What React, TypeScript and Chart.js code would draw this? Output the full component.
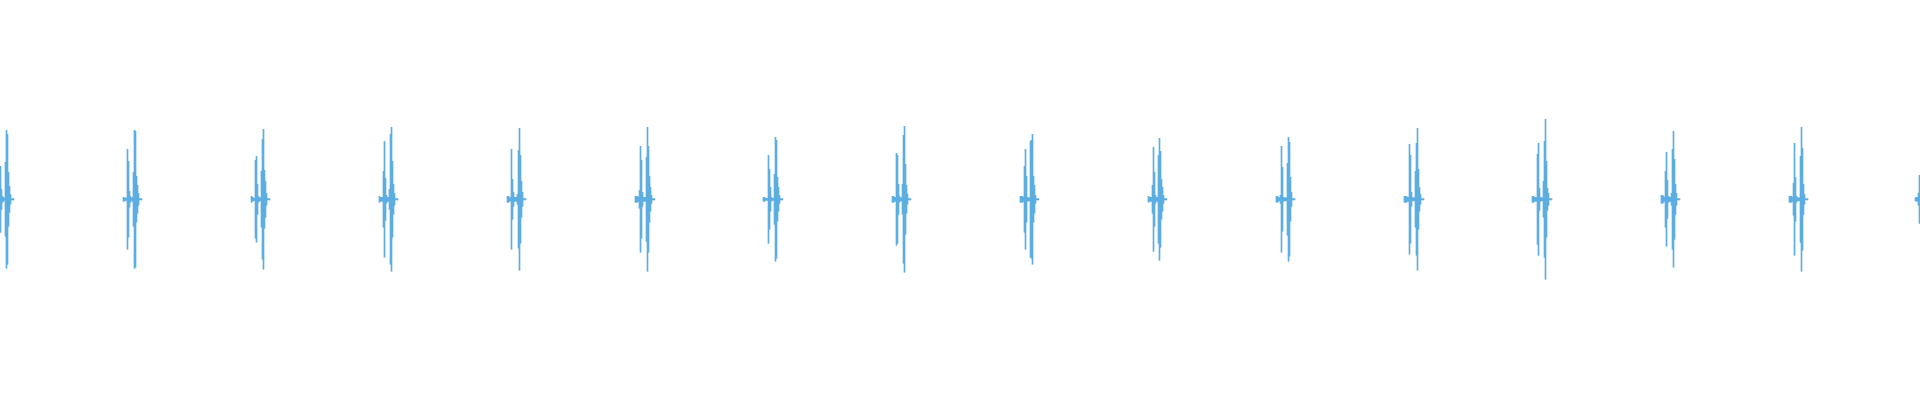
import React, { useEffect, useRef } from "react";
import { Chart, registerables } from "chart.js";

Chart.register(...registerables);

// Waveform envelope: each heartbeat burst starts at a bin (x), followed by
// per-bin half-amplitudes (symmetric around zero). null = outside the view.
const beatStarts = [-5, 123, 251, 379, 507, 635, 763, 892, 1020, 1148, 1276, 1404, 1532, 1661, 1789, 1915];

const beat01 = [null, null, null, null, null, 33, 10, 3, 2, 1, 37, 69, 65, 27, 13, 5, 0.6, 0.6, 0.6];
const beat02 = [2, 1.5, 1.5, 1, 50, 38, 8, 3, 1, 2, 27, 69, 68, 23, 14, 6, 0.6, 0.6, 0.6];
const beat03 = [3, 2, 1.5, 1, 39, 43, 15, 3, 1.5, 1.5, 28, 60, 70, 29, 18, 6, 0.6, 0.6, 0.6];
const beat04 = [3, 2, 2, 2, 28, 58, 21, 4, 2, 2, 10, 65, 72, 38, 15, 6, 0.6, 0.6, 0.6];
const beat05 = [3, 3, 2, 1.5, 50, 20, 7, 2, 2, 2, 5, 49, 71, 44, 18, 7, 0.6, 0.6, 0.6];
const beat06 = [3, 3, 3, 2, 9, 53, 39, 7, 2, 2, 2, 42, 72, 53, 23, 12, 4, 0.6, 0.6, 0.6];
const beat07 = [2, 2, 1, 1, 1, 44, 30, 12, 2, 1, 1, 25, 62, 59, 22, 12, 4, 0.6, 0.6, 0.6];
const beat08 = [3, 3, 2, 2, 46, 44, 15, 3, 1.5, 1.5, 15, 64, 73, 35, 14, 5, 0.6, 0.6, 0.6];
const beat09 = [3, 3, 3, 2, 33, 50, 23, 2, 1.5, 1.5, 58, 59, 65, 23, 14, 4, 0.6, 0.6, 0.6];
const beat10 = [3, 2, 2, 2, 14, 52, 27, 4, 2, 2, 44, 61, 48, 20, 12, 4, 0.6, 0.6, 0.6];
const beat11 = [3, 3, 2, 1.5, 4, 53, 32, 2, 1.5, 1.5, 1.5, 36, 62, 57, 22, 7, 0.6, 0.6, 0.6];
const beat12 = [3, 3, 3, 2, 2, 55, 44, 7, 1.5, 1.5, 1.5, 28, 56, 71, 30, 12, 5, 0.6, 0.6, 0.6];
const beat13 = [3, 3, 2, 2, 2, 45, 56, 11, 2, 1.5, 1.5, 18, 58, 80, 38, 11, 6, 0.6, 0.6, 0.6];
const beat14 = [4, 4, 3, 2, 28, 47, 19, 3, 2, 2, 6, 50, 68, 40, 15, 6, 0.6, 0.6, 0.6];
const beat15 = [3, 3, 3, 2, 16, 56, 22, 3, 1.5, 1.5, 1.5, 43, 72, 51, 15, 5, 0.6, 0.6, 0.6];
const beat16 = [1.5, 2, 2, 6, 24];

const beats = [beat01, beat02, beat03, beat04, beat05, beat06, beat07, beat08,
  beat09, beat10, beat11, beat12, beat13, beat14, beat15, beat16];

const X_MIN = 0;
const X_MAX = 1920;
const Y_MIN = -200.7;
const Y_MAX = 199.3;

function buildPoints() {
  const pts: { x: number; y: [number, number] }[] = [];
  beats.forEach((amps, i) => {
    const start = beatStarts[i];
    amps.forEach((a, k) => {
      if (a === null) return;
      pts.push({ x: start + k + 0.5, y: [-a, a] });
    });
  });
  return pts;
}

export default function App() {
  const ref = useRef<HTMLCanvasElement | null>(null);
  useEffect(() => {
    if (!ref.current) return;
    const chart = new Chart(ref.current, {
      type: "bar",
      data: {
        datasets: [
          {
            data: buildPoints() as any,
            backgroundColor: "#5DADE2",
            borderWidth: 0,
            barThickness: 1,
          },
        ],
      },
      options: {
        animation: false,
        responsive: false,
        maintainAspectRatio: false,
        layout: { padding: 0 },
        plugins: { legend: { display: false }, tooltip: { enabled: false } },
        scales: {
          x: { type: "linear", min: X_MIN, max: X_MAX, offset: false, bounds: "ticks", display: false },
          y: { min: Y_MIN, max: Y_MAX, display: false },
        },
      },
    });
    return () => chart.destroy();
  }, []);
  return (
    <div style={{ position: "absolute", left: 0, top: 0, width: 1920, height: 400, background: "#fff" }}>
      <canvas ref={ref} width={1920} height={400} style={{ display: "block" }} />
    </div>
  );
}
